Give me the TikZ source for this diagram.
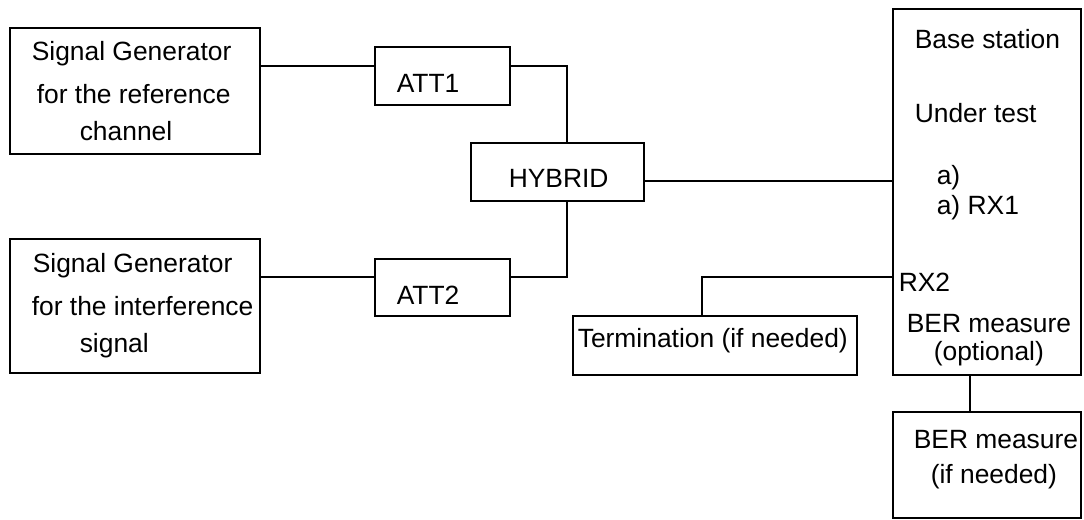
\documentclass[tikz,border=0pt]{standalone}
\usepackage{fontspec}
\setmainfont{Liberation Sans}
\usepackage{tikz}

\begin{document}
\begin{tikzpicture}[x=0.5pt, y=-0.5pt, line width=0.8pt,
                    box/.style={draw, inner sep=0pt},
                    txt/.style={anchor=base west, inner sep=0pt, font=\fontsize{13.2}{16}\selectfont}]
                    \useasboundingbox (0,0) rectangle (1084,520);

                    % boxes
                    \node[box, minimum width=125pt, minimum height=63pt] (sg1) at (135,91) {};
                    \node[box, minimum width=125pt, minimum height=67pt] (sg2) at (135,306) {};
                    \node[box, minimum width=67.5pt, minimum height=29pt] (att1) at (442.5,76) {};
                    \node[box, minimum width=67.5pt, minimum height=28.5pt] (att2) at (442.5,287.5) {};
                    \node[box, minimum width=86.5pt, minimum height=29pt] (hyb) at (557.5,172) {};
                    \node[box, minimum width=94pt, minimum height=183pt] (base) at (987,192) {};
                    \node[box, minimum width=142pt, minimum height=29.5pt] (term) at (715,345.5) {};
                    \node[box, minimum width=94pt, minimum height=53pt] (ber) at (987,465) {};

                    % wire heights and columns
                    \coordinate (w1) at (0,66);
                    \coordinate (w2) at (0,277);
                    \coordinate (w3) at (0,181);
                    \coordinate (v1) at (567,0);
                    \coordinate (v2) at (702,0);
                    \coordinate (v3) at (970,0);

                    \draw (sg1.east |- w1) -- (att1.west |- w1);
                    \draw (att1.east |- w1) -| (v1 |- hyb.north);
                    \draw (sg2.east |- w2) -- (att2.west |- w2);
                    \draw (att2.east |- w2) -| (v1 |- hyb.south);
                    \draw (hyb.east |- w3) -- (base.west |- w3);
                    \draw (base.west |- w2) -| (v2 |- term.north);
                    \draw (v3 |- base.south) -- (v3 |- ber.north);

                    % texts
                    \node[txt] (sg1a) at (31,60) {Signal Generator};
                    \node[txt] (sg1b) at (36,103) {for the reference};
                    \node[txt] (sg1c) at (79,140) {channel};
                    \node[txt] (sg2a) at (32,272) {Signal Generator};
                    \node[txt] (sg2b) at (31,315) {for the interference};
                    \node[txt] (sg2c) at (79,352) {signal};
                    \node[txt] (att1t) at (396,92) {ATT1};
                    \node[txt] (att2t) at (396,304) {ATT2};
                    \node[txt] (hybt) at (508,187) {HYBRID};
                    \node[txt] (bs1) at (914,48) {Base station};
                    \node[txt] (bs2) at (914,122) {Under test};
                    \node[txt] (bs3) at (936,184) {a)};
                    \node[txt] (bs4) at (936,214) {a) RX1};
                    \node[txt] (rx2) at (898,291) {RX2};
                    \node[txt] (bs5) at (906,332) {BER measure};
                    \node[txt] (bs6) at (933,360) {(optional)};
                    \node[txt] (termt) at (577,347) {Termination (if needed)};
                    \node[txt] (ber1) at (913,448) {BER measure};
                    \node[txt] (ber2) at (930,483) {(if needed)};
                \end{tikzpicture}
\end{document}
